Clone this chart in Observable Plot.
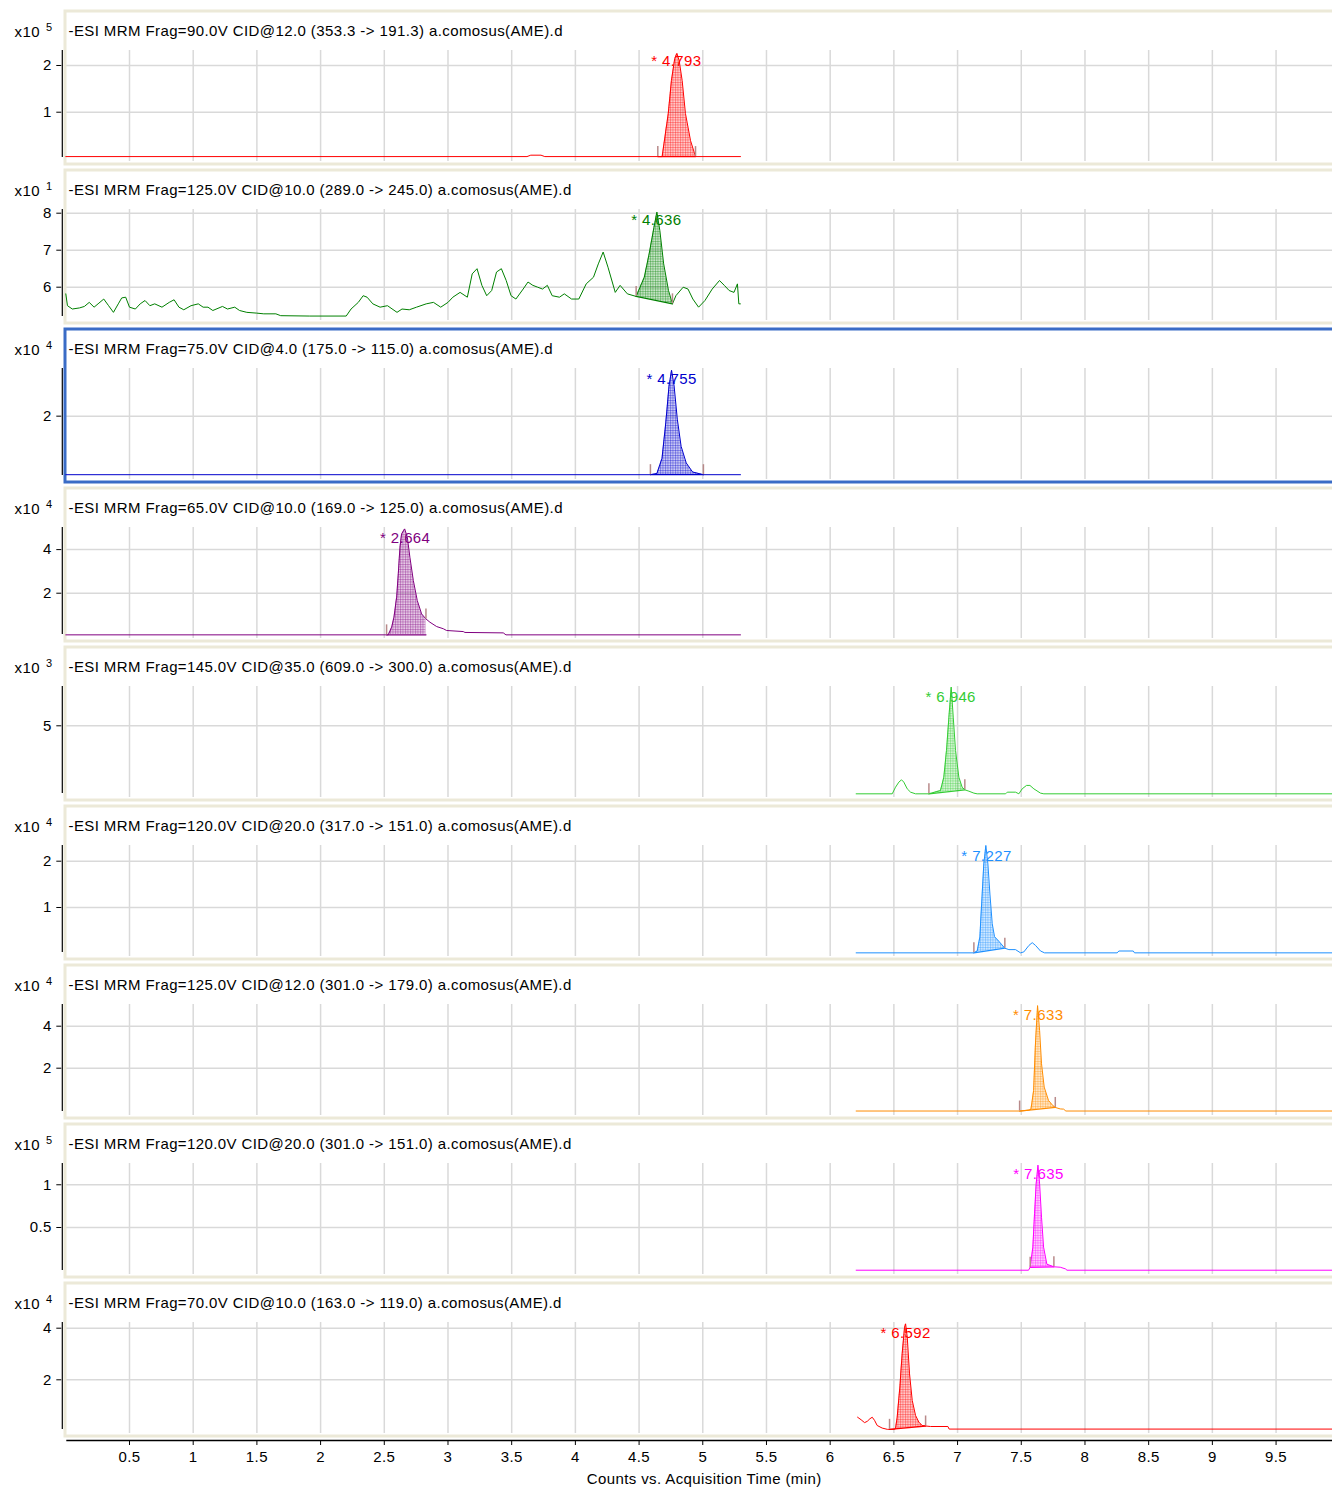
<!DOCTYPE html>
<html>
<head>
<meta charset="utf-8">
<script src="https://cdn.jsdelivr.net/npm/d3@7"></script>
<script src="https://cdn.jsdelivr.net/npm/@observablehq/plot@0.6"></script>
<style>
html,body{margin:0;padding:0;background:#fff;overflow:hidden;}
#chart{width:1332px;padding-top:7px;}
#chart svg{display:block;overflow:hidden;}
#chart svg text{letter-spacing:0.4px;}
</style>
</head>
<body>
<div id="chart"></div>
<script>
// ---------- text ----------
const titles = [
  "-ESI MRM Frag=90.0V CID@12.0 (353.3 -> 191.3) a.comosus(AME).d",
  "-ESI MRM Frag=125.0V CID@10.0 (289.0 -> 245.0) a.comosus(AME).d",
  "-ESI MRM Frag=75.0V CID@4.0 (175.0 -> 115.0) a.comosus(AME).d",
  "-ESI MRM Frag=65.0V CID@10.0 (169.0 -> 125.0) a.comosus(AME).d",
  "-ESI MRM Frag=145.0V CID@35.0 (609.0 -> 300.0) a.comosus(AME).d",
  "-ESI MRM Frag=120.0V CID@20.0 (317.0 -> 151.0) a.comosus(AME).d",
  "-ESI MRM Frag=125.0V CID@12.0 (301.0 -> 179.0) a.comosus(AME).d",
  "-ESI MRM Frag=120.0V CID@20.0 (301.0 -> 151.0) a.comosus(AME).d",
  "-ESI MRM Frag=70.0V CID@10.0 (163.0 -> 119.0) a.comosus(AME).d"
];
const exponents = [5, 1, 4, 4, 3, 4, 4, 5, 4];
const xAxisTitle = "Counts vs. Acquisition Time (min)";
const xTicks = [0.5, 1, 1.5, 2, 2.5, 3, 3.5, 4, 4.5, 5, 5.5, 6, 6.5, 7, 7.5, 8, 8.5, 9, 9.5];
const yTicks = [[1, 2], [6, 7, 8], [2], [2, 4], [5], [1, 2], [2, 4], [0.5, 1], [2, 4]];
const yDomains = [[0.009, 2.321], [5.181, 8.1], [0, 3.58], [0.06, 5.014], [0, 7.86],
                  [0.006, 2.339], [-0.11, 5.033], [-0.015, 1.249], [0.035, 4.221]];
const colors = ["#ff0000", "#008000", "#0000cc", "#800080", "#33cc33", "#1e90ff", "#ff8c00", "#ff00ff", "#ff0000"];
const peakRT = [4.793, 4.636, 4.755, 2.664, 6.946, 7.227, 7.633, 7.635, 6.592];

// ---------- traces (time in min, counts in panel units) ----------
const p1T = [0, 3.62, 3.65, 3.73, 3.76, 4.647, 4.681, 4.729, 4.754, 4.78, 4.797, 4.815, 4.838, 4.864, 4.904, 4.943, 5.296];
const p1V = [0.05, 0.05, 0.08, 0.08, 0.05, 0.05, 0.05, 0.97, 1.68, 2.15, 2.26, 2.1, 1.68, 0.97, 0.39, 0.05, 0.05];

const p2T = [0, 0.013, 0.051, 0.108, 0.146, 0.184, 0.222, 0.260, 0.298, 0.336,
  0.374, 0.412, 0.439, 0.470, 0.500, 0.546, 0.584, 0.622, 0.660, 0.698,
  0.755, 0.812, 0.850, 0.888, 0.926, 0.983, 1.040, 1.078, 1.116, 1.154,
  1.230, 1.269, 1.326, 1.364, 1.421, 1.497, 1.554, 1.649, 1.687, 1.915,
  2.201, 2.239, 2.296, 2.334, 2.365, 2.410, 2.467, 2.525, 2.600, 2.639,
  2.696, 2.753, 2.829, 2.886, 2.943, 3.000, 3.038, 3.095, 3.152, 3.190,
  3.228, 3.266, 3.304, 3.343, 3.381, 3.419, 3.457, 3.495, 3.533, 3.590,
  3.628, 3.666, 3.704, 3.742, 3.780, 3.818, 3.875, 3.913, 3.970, 4.027,
  4.085, 4.142, 4.180, 4.218, 4.256, 4.313, 4.351, 4.408, 4.477, 4.541,
  4.579, 4.617, 4.640, 4.663, 4.693, 4.731, 4.762, 4.789, 4.846, 4.884,
  4.922, 4.967, 5.017, 5.074, 5.131, 5.169, 5.207, 5.245, 5.272, 5.283,
  5.295];
const p2V = [5.82, 5.50, 5.41, 5.44, 5.48, 5.59, 5.46, 5.57, 5.68, 5.50,
  5.32, 5.55, 5.71, 5.73, 5.46, 5.41, 5.55, 5.64, 5.50, 5.55,
  5.46, 5.59, 5.66, 5.46, 5.39, 5.50, 5.55, 5.46, 5.46, 5.37,
  5.48, 5.41, 5.46, 5.37, 5.32, 5.30, 5.28, 5.28, 5.23, 5.22,
  5.22, 5.41, 5.59, 5.77, 5.73, 5.55, 5.46, 5.50, 5.32, 5.41,
  5.39, 5.46, 5.55, 5.59, 5.46, 5.59, 5.73, 5.86, 5.73, 6.36,
  6.50, 6.05, 5.77, 5.91, 6.41, 6.50, 6.18, 5.77, 5.68, 5.95,
  6.14, 6.05, 6.00, 5.95, 6.05, 5.77, 5.73, 5.82, 5.68, 5.68,
  6.09, 6.27, 6.63, 6.95, 6.54, 5.86, 6.05, 5.82, 5.75, 6.27,
  6.90, 7.62, 8.03, 7.53, 6.63, 5.91, 5.55, 5.77, 6.00, 5.95,
  5.68, 5.46, 5.64, 5.95, 6.18, 6.05, 5.91, 5.86, 6.09, 5.55,
  5.55];

const p3T = [0, 4.589, 4.64, 4.68, 4.71, 4.735, 4.755, 4.775, 4.80, 4.83, 4.87, 4.92, 5.005, 5.296];
const p3V = [0.06, 0.06, 0.1, 0.6, 1.8, 3.0, 3.52, 3.0, 1.9, 1.0, 0.45, 0.15, 0.06, 0.06];

const p4T = [0, 2.518, 2.531, 2.558, 2.576, 2.597, 2.610, 2.623, 2.636, 2.660,
  2.681, 2.701, 2.728, 2.759, 2.793, 2.827, 2.858, 2.911, 2.963, 2.989,
  3.120, 3.133, 3.434, 3.455, 5.296];
const p4V = [0.09, 0.09, 0.09, 0.44, 0.90, 1.82, 2.89, 4.11, 4.72, 4.95,
  4.56, 3.65, 2.58, 1.66, 1.05, 0.82, 0.67, 0.47, 0.37, 0.29,
  0.24, 0.20, 0.18, 0.09, 0.09];

const p5T = [6.204, 6.487, 6.513, 6.539, 6.560, 6.578, 6.605, 6.631, 6.670, 6.775,
  6.866, 6.892, 6.913, 6.932, 6.950, 6.966, 6.984, 7.010, 7.036, 7.057,
  7.089, 7.128, 7.154, 7.377, 7.390, 7.455, 7.481, 7.507, 7.541, 7.568,
  7.599, 7.651, 7.677, 9.943];
const p5V = [0.05, 0.05, 0.53, 0.90, 1.07, 0.90, 0.41, 0.17, 0.05, 0.05,
  0.29, 1.26, 3.20, 5.63, 7.82, 5.63, 3.20, 1.26, 0.53, 0.34,
  0.24, 0.10, 0.05, 0.05, 0.17, 0.17, 0.05, 0.41, 0.66, 0.66,
  0.41, 0.10, 0.05, 0.05];

const p6T = [6.204, 7.128, 7.154, 7.175, 7.193, 7.206, 7.222, 7.238, 7.254, 7.272,
  7.290, 7.324, 7.371, 7.403, 7.455, 7.494, 7.520, 7.560, 7.586, 7.612,
  7.651, 7.683, 8.253, 8.266, 8.379, 8.389, 9.943];
const p6V = [0.02, 0.02, 0.06, 0.36, 1.29, 1.94, 2.34, 1.94, 1.29, 0.65,
  0.37, 0.27, 0.12, 0.09, 0.09, 0.02, 0.04, 0.18, 0.24, 0.18,
  0.06, 0.02, 0.02, 0.06, 0.06, 0.02, 0.02];

const p7T = [6.204, 7.487, 7.557, 7.576, 7.597, 7.610, 7.628, 7.644, 7.659, 7.680, 7.714, 7.748, 7.767, 7.806, 7.832, 7.850, 9.943];
const p7V = [-0.04, -0.04, 0.0, 0.04, 0.94, 3.0, 4.98, 3.79, 2.21, 1.10, 0.46, 0.22, 0.13, 0.06, 0.05, -0.04, -0.04];

const p8T = [6.204, 7.557, 7.570, 7.591, 7.604, 7.617, 7.631, 7.644, 7.659, 7.675, 7.701, 7.756, 7.806, 7.846, 7.859, 9.943];
const p8V = [0, 0, 0.035, 0.27, 0.66, 1.01, 1.23, 1.01, 0.62, 0.27, 0.07, 0.04, 0.035, 0.016, 0, 0];

const p9T = [6.215, 6.243, 6.270, 6.291, 6.312, 6.330, 6.348, 6.369, 6.408, 6.448,
  6.466, 6.500, 6.513, 6.526, 6.547, 6.565, 6.584, 6.592, 6.605, 6.623,
  6.644, 6.670, 6.696, 6.722, 6.749, 6.788, 6.924, 6.934, 9.943];
const p9V = [0.55, 0.45, 0.34, 0.39, 0.49, 0.55, 0.43, 0.23, 0.13, 0.08,
  0.08, 0.08, 0.10, 0.55, 1.72, 3.01, 4.04, 4.17, 3.65, 2.23,
  1.20, 0.62, 0.36, 0.23, 0.21, 0.19, 0.19, 0.09, 0.09];

// ---------- integration windows ----------
const intStartT = [4.647, 4.477, 4.589, 2.518, 6.775, 7.128, 7.487, 7.570, 6.466];
const intStartV = [0.05, 5.75, 0.06, 0.09, 0.05, 0.02, -0.04, 0.035, 0.08];
const intEndT = [4.943, 4.762, 5.005, 2.827, 7.057, 7.371, 7.767, 7.756, 6.749];
const intEndV = [0.05, 5.55, 0.06, 0.09, 0.34, 0.12, 0.13, 0.04, 0.21];

const traceTimes = [p1T, p2T, p3T, p4T, p5T, p6T, p7T, p8T, p9T];
const traceValues = [p1V, p2V, p3V, p4V, p5V, p6V, p7V, p8V, p9V];

// ---------- layout ----------
const W = 1332, PANEL_H = 159, ML = 65.3, XMAX = 9.943;
const FONT = "'Liberation Sans', Arial, sans-serif";
const FS = 15;
const GRID = "#d9d9d9";
const root = document.getElementById("chart");
const NS = "http://www.w3.org/2000/svg";

function addPattern(svg, id, c) {
  const defs = document.createElementNS(NS, "defs");
  defs.innerHTML = `<pattern id="${id}" patternUnits="userSpaceOnUse" width="2.5" height="2.5">
    <rect width="2.5" height="2.5" fill="${c}" fill-opacity="0.2"></rect>
    <path d="M0 0.5H2.5M0.5 0V2.5" stroke="${c}" stroke-width="0.6" stroke-opacity="0.55"></path></pattern>`;
  svg.insertBefore(defs, svg.firstChild);
}

function panel(k) {
  const color = colors[k];
  const rows = traceTimes[k].map((t, i) => ({t, v: traceValues[k][i]}));
  const ts = intStartT[k], te = intEndT[k], vs = intStartV[k], ve = intEndV[k];
  const chord = t => vs + (ve - vs) * (t - ts) / (te - ts);
  const areaRows = rows.filter(d => d.t >= ts - 1e-9 && d.t <= te + 1e-9)
    .map(d => ({t: d.t, lo: chord(d.t), hi: d.v}));
  const ends = [{t: ts, v: vs}, {t: te, v: ve}];
  const tickBase = ends.map(e => {
    const r = rows.find(d => Math.abs(d.t - e.t) < 1e-9);
    return {t: e.t, v: r ? r.v : e.v};
  });
  const svg = Plot.plot({
    width: W, height: PANEL_H,
    marginLeft: ML, marginRight: 0, marginTop: 43, marginBottom: 8,
    style: {fontFamily: FONT, fontSize: FS + "px", background: "transparent", color: "#000"},
    x: {domain: [0, XMAX], axis: null},
    y: {domain: yDomains[k]},
    marks: [
      Plot.gridX(xTicks, {stroke: GRID, strokeOpacity: 1, strokeWidth: 1.5, insetBottom: -3}),
      Plot.gridY(yTicks[k], {stroke: GRID, strokeOpacity: 1, strokeWidth: 1.5}),
      Plot.frame({stroke: k === 2 ? "#3a6cc6" : "#ece9d8", strokeWidth: 3,
        insetTop: -39.5, insetBottom: -5.5, insetLeft: -0.8, insetRight: -5}),
      Plot.ruleX([0], {dx: -3.5, stroke: "#000", strokeWidth: 1.2, insetBottom: 1}),
      Plot.axisY(yTicks[k], {tickSize: 5, dx: -4, tickPadding: 5, fontSize: FS, label: null,
        tickFormat: d => String(d), stroke: "#000", fill: "#000"}),
      Plot.areaY(areaRows, {x: "t", y1: "lo", y2: "hi", fill: `url(#hatch${k})`}),
      Plot.line(ends, {x: "t", y: "v", stroke: color, strokeWidth: 1.3}),
      Plot.line(rows, {x: "t", y: "v", stroke: color, strokeWidth: 1}),
      Plot.ruleX(tickBase, {x: "t", y1: "v", y2: "v", insetTop: -10, stroke: "#b88a8a", strokeWidth: 1.5}),
      Plot.text([peakRT[k]], {x: d => d, text: d => "* " + d.toFixed(3), frameAnchor: "top", dy: 5,
        fill: color, fontSize: FS}),
      Plot.text([titles[k]], {text: d => d, frameAnchor: "top-left", dx: 2.7, dy: -25,
        textAnchor: "start", fill: "#000", fontSize: FS}),
      Plot.text(["x10"], {text: d => d, frameAnchor: "top-left", dx: -51.3, dy: -24,
        textAnchor: "start", fill: "#000", fontSize: FS}),
      Plot.text([String(exponents[k])], {text: d => d, frameAnchor: "top-left", dx: -19.8, dy: -27,
        textAnchor: "start", fill: "#000", fontSize: 11})
    ]
  });
  addPattern(svg, `hatch${k}`, color);
  return svg;
}

for (let k = 0; k < titles.length; k++) root.appendChild(panel(k));

const axisSvg = Plot.plot({
  width: W, height: 49,
  marginLeft: ML, marginRight: 0, marginTop: 0, marginBottom: 47,
  style: {fontFamily: FONT, fontSize: FS + "px", background: "transparent", color: "#000"},
  x: {domain: [0, XMAX]},
  y: {domain: [0, 1], axis: null},
  marks: [
    Plot.ruleY([0], {stroke: "#000", strokeWidth: 1.5, insetLeft: 1}),
    Plot.axisX(xTicks, {tickSize: 5, tickPadding: 6, fontSize: FS, label: null,
      tickFormat: d => String(d), stroke: "#000", fill: "#000"}),
    Plot.text([xAxisTitle], {text: d => d, frameAnchor: "bottom", dx: 5, dy: 43, fill: "#000", fontSize: FS})
  ]
});
root.appendChild(axisSvg);
</script>
</body>
</html>
